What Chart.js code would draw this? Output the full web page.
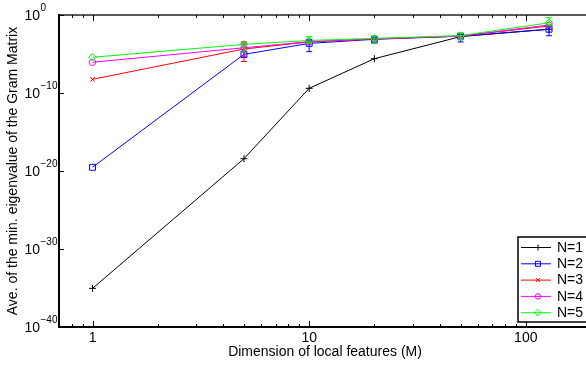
<!DOCTYPE html>
<html>
<head>
<meta charset="utf-8">
<script src="https://cdn.jsdelivr.net/npm/chart.js@4"></script>
<style>
  html, body { margin: 0; padding: 0; background: #fff; overflow: hidden; }
</style>
</head>
<body>
<canvas id="myChart" width="600" height="368"></canvas>
<script>
// dimension of local features (M)
const dims = [1, 5, 10, 20, 50, 128];

// ave. of min eigenvalue, one array per N
const n1 = [9e-36, 3.8e-19, 4e-10, 2.5e-6, 1.7e-3, 1.5e-2];
const n2 = [3e-20, 9e-6, 2.3e-4, 7.6e-4, 1.9e-3, 1.5e-2];
const n3 = [5.7e-9, 4.4e-5, 3.5e-4, 8.3e-4, 2e-3, 3.9e-2];
const n4 = [8.7e-7, 6.3e-5, 3.8e-4, 9e-4, 2e-3, 5.2e-2];
const n5 = [3.8e-6, 1.7e-4, 5.4e-4, 1e-3, 2.3e-3, 1e-1];

// error bar ends (null = none visible)
const n2Low  = [null, 4e-6, 2e-5, 2.5e-4, 3.5e-4, 2.2e-3];
const n2High = [null, 1.8e-5, 6.3e-4, 1.2e-3, 3.2e-3, 4e-2];
const n3Low  = [null, 1.1e-6, null, null, null, null];
const n3High = [null, 3.5e-4, null, null, null, null];
const n4Low  = [null, 5.5e-6, null, null, null, null];
const n4High = [null, 2e-4, null, null, null, null];
const n5Low  = [null, 1.8e-5, 2.3e-4, 2.5e-4, 6.3e-4, 4e-2];
const n5High = [null, 3.2e-4, 1.7e-3, 2e-3, 5e-3, 4.5e-1];

const xTicks = [1, 10, 100];
const xMinor = [0.8, 0.9, 2, 3, 4, 5, 6, 7, 8, 9, 20, 30, 40, 50, 60, 70, 80, 90, 200];
const yTicks = [1e-40, 1e-30, 1e-20, 1e-10, 1];
const yTickExp = ['\u221240', '\u221230', '\u221220', '\u221210', '0'];

const labels = ['N=1', 'N=2', 'N=3', 'N=4', 'N=5'];
const colors = ['#000000', '#0000ff', '#ff0000', '#ff00ff', '#00ff00'];
const markers = ['cross', 'rect', 'crossRot', 'circle', 'rectRot'];
const sizes = [3.5, 4.2, 3.2, 3.2, 3.8];

const series = [n1, n2, n3, n4, n5];
const lows = [null, n2Low, n3Low, n4Low, n5Low];
const highs = [null, n2High, n3High, n4High, n5High];

const FONT = '"Liberation Sans", Arial, Helvetica, sans-serif';

const datasets = series.map((s, i) => ({
    label: labels[i],
    data: s.map((v, j) => ({ x: dims[j], y: v })),
    borderColor: colors[i],
    borderWidth: 1,
    pointStyle: markers[i],
    pointRadius: sizes[i],
    pointBorderColor: colors[i],
    pointBackgroundColor: 'rgba(0,0,0,0)',
    pointBorderWidth: 1,
    fill: false,
    tension: 0,
    order: 5 - i
}));

// error bars, ticks, y labels, top border and legend
const extras = {
    id: 'extras',
    afterDatasetsDraw(chart) {
        const c = chart.ctx;
        const xs = chart.scales.x, ys = chart.scales.y;
        c.save();
        c.lineWidth = 1;
        series.forEach((s, i) => {
            if (!lows[i]) return;
            c.strokeStyle = colors[i];
            s.forEach((v, j) => {
                if (lows[i][j] == null) return;
                const px = xs.getPixelForValue(dims[j]);
                const y1 = ys.getPixelForValue(lows[i][j]);
                const y2 = ys.getPixelForValue(highs[i][j]);
                c.beginPath();
                c.moveTo(px, y1); c.lineTo(px, y2);
                c.moveTo(px - 3, y1); c.lineTo(px + 3, y1);
                c.moveTo(px - 3, y2); c.lineTo(px + 3, y2);
                c.stroke();
            });
        });
        c.restore();
    },
    afterDraw(chart) {
        const c = chart.ctx;
        const a = chart.chartArea;
        const xs = chart.scales.x, ys = chart.scales.y;
        c.save();
        // top border
        c.strokeStyle = '#222';
        c.lineWidth = 1.5;
        c.beginPath();
        c.moveTo(a.left, a.top); c.lineTo(a.right + 20, a.top);
        c.stroke();
        // x ticks (inward, top and bottom)
        c.strokeStyle = '#000';
        c.lineWidth = 1;
        c.beginPath();
        xTicks.concat(xMinor).forEach(v => {
            const px = Math.round(xs.getPixelForValue(v)) + 0.5;
            const len = xTicks.includes(v) ? 6 : 3;
            c.moveTo(px, a.bottom); c.lineTo(px, a.bottom - len);
            c.moveTo(px, a.top); c.lineTo(px, a.top + len);
        });
        // y ticks
        yTicks.forEach(v => {
            const py = Math.round(ys.getPixelForValue(v)) + 0.5;
            c.moveTo(a.left, py); c.lineTo(a.left + 5, py);
        });
        c.stroke();
        // y labels 10^k
        c.fillStyle = '#000';
        yTicks.forEach((v, i) => {
            const py = ys.getPixelForValue(v);
            c.font = '14px ' + FONT;
            c.textAlign = 'right';
            c.textBaseline = 'middle';
            c.fillText('10', 40, py + 1);
            c.font = '10px ' + FONT;
            c.textAlign = 'left';
            c.fillText(yTickExp[i], 40.5, py - 7);
        });
        // legend
        const lx = 518, ly = 237, lw = 90, lh = 85;
        c.fillStyle = '#fff';
        c.fillRect(lx, ly, lw, lh);
        c.strokeStyle = '#000';
        c.lineWidth = 1.5;
        c.strokeRect(lx, ly, lw, lh);
        labels.forEach((lab, i) => {
            const ry = 247.5 + i * 16.3;
            c.strokeStyle = colors[i];
            c.lineWidth = 1;
            c.beginPath();
            c.moveTo(521, ry); c.lineTo(551, ry);
            c.stroke();
            c.fillStyle = 'rgba(0,0,0,0)';
            Chart.helpers.drawPoint(c, {
                pointStyle: markers[i], radius: sizes[i] * 0.85, borderWidth: 1, rotation: 0
            }, 538, ry);
            c.fillStyle = '#000';
            c.font = '14px ' + FONT;
            c.textAlign = 'left';
            c.textBaseline = 'middle';
            c.fillText(lab, 557, ry + 0.5);
        });
        c.restore();
    }
};

new Chart(document.getElementById('myChart'), {
    type: 'line',
    data: { datasets: datasets },
    options: {
        responsive: false,
        animation: false,
        layout: { padding: { top: 15, right: 9, left: 0, bottom: 0 } },
        plugins: { legend: { display: false }, tooltip: { enabled: false } },
        scales: {
            x: {
                type: 'logarithmic',
                min: 0.705,
                max: 200,
                grid: { display: false, drawTicks: false },
                border: { display: true, color: '#000', width: 2 },
                afterBuildTicks: s => { s.ticks = xTicks.map(v => ({ value: v })); },
                afterFit: s => { s.height = 41; },
                ticks: {
                    autoSkip: false,
                    maxRotation: 0,
                    padding: 3,
                    color: '#000',
                    font: { family: FONT, size: 14 },
                    callback: v => String(v)
                },
                title: {
                    display: true,
                    text: 'Dimension of local features (M)',
                    color: '#000',
                    font: { family: FONT, size: 14 },
                    padding: { top: 0, bottom: 7 }
                }
            },
            y: {
                type: 'logarithmic',
                min: 1e-40,
                max: 1,
                grid: { display: false, drawTicks: false },
                border: { display: true, color: '#000', width: 2 },
                afterBuildTicks: s => { s.ticks = yTicks.map(v => ({ value: v })); },
                afterFit: s => { s.width = 59; },
                ticks: { display: false },
                title: {
                    display: true,
                    text: 'Ave. of the min. eigenvalue of the Gram Matrix',
                    color: '#000',
                    font: { family: FONT, size: 14 },
                    padding: { top: 5, bottom: 0 }
                }
            }
        }
    },
    plugins: [extras]
});
</script>
</body>
</html>
